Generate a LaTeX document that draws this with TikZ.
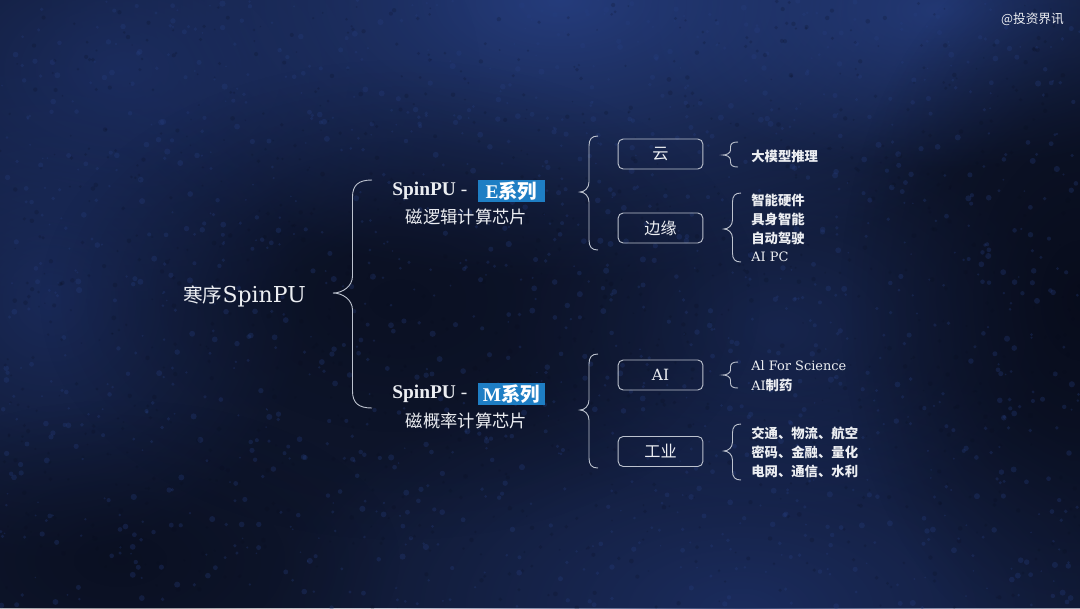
\documentclass[tikz,border=0pt]{standalone}
\usepackage{fontspec}
\setmainfont{Liberation Serif}
\newfontfamily\cjk{Noto Sans CJK SC}
\newfontfamily\dvs{DejaVu Serif}
\usetikzlibrary{fadings}
\tikzfading[name=softblob, inner color=transparent!0, outer color=transparent!100]
\definecolor{bgbase}{RGB}{15,23,46}
\definecolor{patchA}{RGB}{38,62,128}
\definecolor{patchB}{RGB}{28,46,98}
\definecolor{darkA}{RGB}{7,11,26}
\definecolor{linecol}{RGB}{188,194,206}
\definecolor{txtcol}{RGB}{236,238,242}
\definecolor{tagblue}{RGB}{30,126,196}
\tikzset{
  bracestyle/.style={draw=linecol, line width=0.65pt},
  txt/.style={text=txtcol, inner sep=0pt},
  catbox/.style={draw=linecol, line width=0.65pt, rounded corners=3.5pt,
    minimum width=60.2pt, minimum height=21.3pt, text=txtcol, inner sep=0pt,
    font=\cjk\fontsize{11.5}{13}\selectfont},
  tagbox/.style={fill=tagblue, minimum width=47.5pt, minimum height=15.6pt,
    inner sep=0pt, text=white},
  item/.style={txt, anchor=west, font=\cjk\bfseries\fontsize{9.5}{11}\selectfont},
  blob/.style={path fading=softblob},
}
% brace: #1 end x, #2 width, #3 top y, #4 tip y, #5 bottom y, #6 curl size
\newcommand\mybrace[6]{%
  \draw[bracestyle] (#1,#3) .. controls ({#1-0.35*#2},#3) and ({#1-#2/2},{#3+0.3*#6}) .. ({#1-#2/2},{#3+#6})
   -- ({#1-#2/2},{#4-#6}) .. controls ({#1-#2/2},{#4-0.4*#6}) and ({#1-0.75*#2},#4) .. ({#1-#2},#4)
   .. controls ({#1-0.75*#2},#4) and ({#1-#2/2},{#4+0.4*#6}) .. ({#1-#2/2},{#4+#6})
   -- ({#1-#2/2},{#5-#6}) .. controls ({#1-#2/2},{#5-0.3*#6}) and ({#1-0.35*#2},#5) .. (#1,#5);}
\begin{document}
\begin{tikzpicture}[x=0.025cm, y=-0.025cm]
\useasboundingbox (0,0) rectangle (1080,608);
% background
\fill[bgbase] (0,0) rectangle (1080,608);
\fill[patchA, blob, opacity=0.95] (560,0) ellipse (13cm and 7cm);
\fill[patchA, blob, opacity=0.8] (940,10) ellipse (8cm and 4cm);
\fill[patchB, blob, opacity=0.9] (120,70) ellipse (9cm and 6cm);
\fill[patchB, blob, opacity=0.9] (740,610) ellipse (12cm and 6.5cm);
\fill[patchB, blob, opacity=0.8] (50,300) ellipse (6.5cm and 6.5cm);
\fill[patchB, blob, opacity=0.6] (780,330) ellipse (7cm and 5cm);
\fill[darkA, blob, opacity=0.55] (400,300) ellipse (9cm and 6cm);
\fill[darkA, blob, opacity=0.9] (1080,300) ellipse (6cm and 9cm);
\fill[darkA, blob, opacity=0.6] (120,560) ellipse (7cm and 4cm);
\pgfmathsetseed{11}
\foreach \i in {1,...,1400}{
  \pgfmathsetmacro{\px}{rnd*1080}
  \pgfmathsetmacro{\py}{rnd*608}
  \pgfmathsetmacro{\pr}{0.6+rnd*1.6}
  \fill[patchA, opacity=0.3] (\px,\py) circle (\pr pt);
}
\foreach \i in {1,...,1000}{
  \pgfmathsetmacro{\px}{rnd*1080}
  \pgfmathsetmacro{\py}{rnd*608}
  \pgfmathsetmacro{\pr}{0.5+rnd*1.2}
  \fill[darkA, opacity=0.18] (\px,\py) circle (\pr pt);
}

% watermark
\node[txt, anchor=east, font=\cjk\fontsize{9}{10}\selectfont] (wm) at (1064,19) {@投资界讯};

% root
\node[txt, anchor=west] (root) at (183,296) {{\cjk\fontsize{14}{16}\selectfont 寒序}{\dvs\fontsize{15.6}{18}\selectfont SpinPU}};

% E series
\node[txt, anchor=west, font=\fontsize{13.8}{16}\selectfont] (etitle) at (392,191) {\textbf{SpinPU} -};
\node[tagbox] (etag) at (511.5,191) {\fontsize{13.8}{16}\selectfont\textbf{E}{\cjk\bfseries 系列}};
\node[txt, font=\cjk\fontsize{12.3}{14}\selectfont] (esub) at (466.5,217) {磁逻辑计算芯片};

% M series
\node[txt, anchor=west, font=\fontsize{13.8}{16}\selectfont] (mtitle) at (392,394) {\textbf{SpinPU} -};
\node[tagbox] (mtag) at (511.5,394) {\fontsize{13.8}{16}\selectfont\textbf{M}{\cjk\bfseries 系列}};
\node[txt, font=\cjk\fontsize{12.3}{14}\selectfont] (msub) at (466.5,421) {磁概率计算芯片};

% category boxes
\node[catbox] (cloud) at (660.5,154) {云};
\node[catbox] (edge) at (660.5,228) {边缘};
\node[catbox, font=\dvs\fontsize{11}{13}\selectfont] (ai) at (660.5,375) {AI};
\node[catbox] (ind) at (660.5,451.5) {工业};

% items
\node[item] (i1) at (751,156) {大模型推理};
\node[item] (i2) at (751,200) {智能硬件};
\node[item] (i3) at (751,219) {具身智能};
\node[item] (i4) at (751,238) {自动驾驶};
\node[item, font=\dvs\fontsize{9.2}{11}\selectfont] (i5) at (751,257) {AI PC};
\node[item, font=\dvs\fontsize{9.2}{11}\selectfont] (i6) at (751,366) {Al For Science};
\node[item] (i7) at (751,385) {{\dvs\mdseries\fontsize{9.2}{11}\selectfont AI}制药};
\node[item] (i8) at (751,433) {交通、物流、航空};
\node[item] (i9) at (751,452) {密码、金融、量化};
\node[item] (i10) at (751,471) {电网、通信、水利};

% braces
\mybrace{372}{39}{180}{293}{408}{17}
\mybrace{598}{18}{136}{192}{250}{10}
\mybrace{598}{18}{354}{410}{468}{10}
\mybrace{738}{15}{142}{155}{167}{5}
\mybrace{741}{17}{193}{229}{262}{9}
\mybrace{738}{15}{362}{375}{388}{5}
\mybrace{741}{17}{424}{451}{480}{9}
\end{tikzpicture}
\end{document}
